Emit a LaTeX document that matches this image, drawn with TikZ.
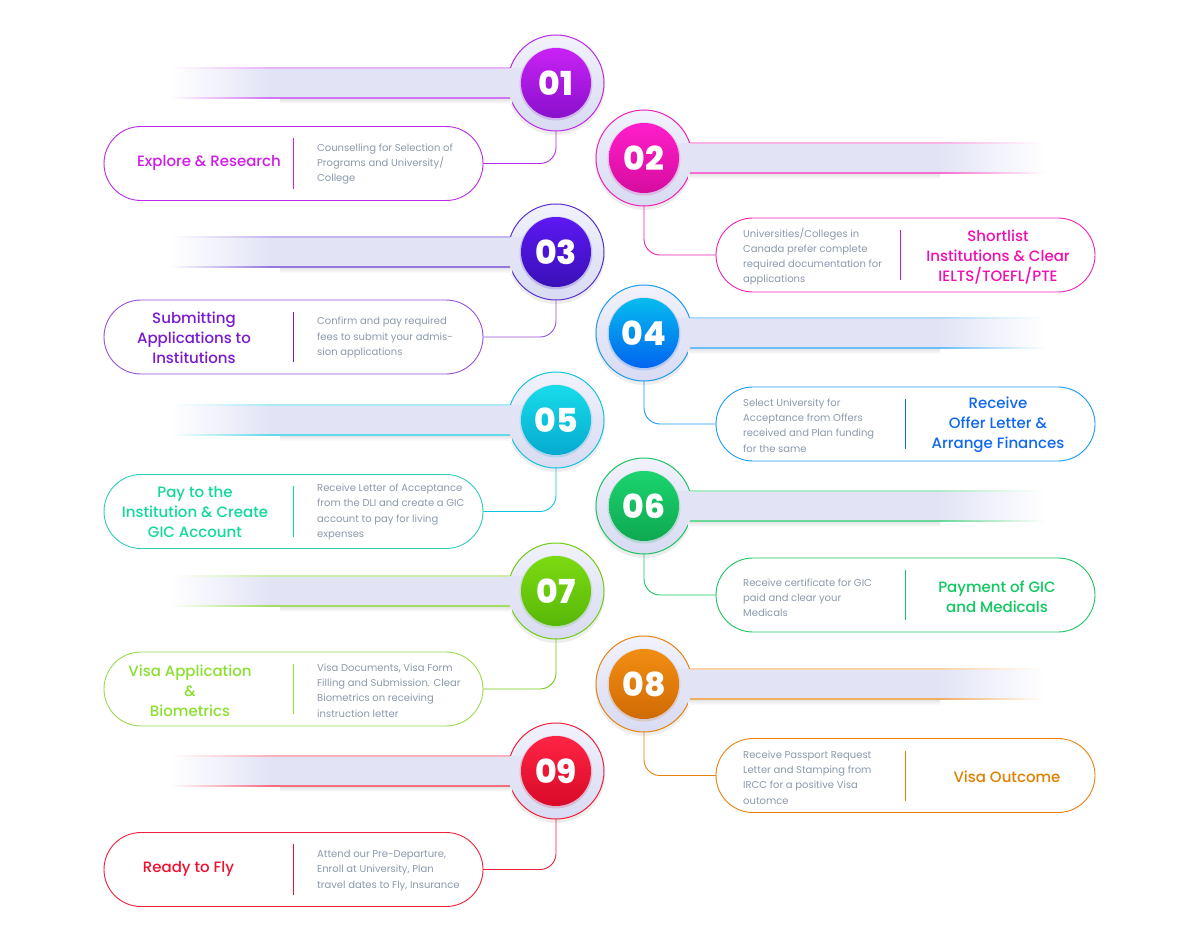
\documentclass[tikz,border=0pt]{standalone}
\usepackage{fontspec}
\setmainfont{Poppins}
\newfontfamily\ptitle{Poppins Medium}
\newfontfamily\pnum{Poppins ExtraBold}
\usetikzlibrary{calc}
\definecolor{desc}{HTML}{8C9AAC}
\definecolor{barc}{HTML}{E2E4F6}
\definecolor{ringtop}{HTML}{F1F2FC}
\definecolor{ringbot}{HTML}{D8DBF2}
% step colours: main, top, bottom, title
\definecolor{m1}{HTML}{B92AE8}\definecolor{u1}{HTML}{C922F5}\definecolor{l1}{HTML}{8A10CC}\definecolor{t1}{HTML}{D01CE8}
\definecolor{m2}{HTML}{F020B8}\definecolor{u2}{HTML}{FF1ECB}\definecolor{l2}{HTML}{D60C9E}\definecolor{t2}{HTML}{F00FB0}
\definecolor{m3}{HTML}{5A30D0}\definecolor{u3}{HTML}{5C18F2}\definecolor{l3}{HTML}{3A10B8}\definecolor{t3}{HTML}{7A1AD0}
\definecolor{b3}{HTML}{9A50D8}
\definecolor{m4}{HTML}{1A9AF0}\definecolor{u4}{HTML}{06BCEE}\definecolor{l4}{HTML}{0064F0}\definecolor{t4}{HTML}{1068F0}
\definecolor{m5}{HTML}{10C4E0}\definecolor{u5}{HTML}{18DCEA}\definecolor{l5}{HTML}{06AAD0}\definecolor{t5}{HTML}{12D89C}
\definecolor{b5}{HTML}{30CCB8}
\definecolor{m6}{HTML}{1CC460}\definecolor{u6}{HTML}{1CD470}\definecolor{l6}{HTML}{0EA850}\definecolor{t6}{HTML}{10C860}
\definecolor{m7}{HTML}{70CC10}\definecolor{u7}{HTML}{7CDA12}\definecolor{l7}{HTML}{58B808}\definecolor{t7}{HTML}{8AE030}
\definecolor{b7}{HTML}{9ADA50}
\definecolor{m8}{HTML}{E8820E}\definecolor{u8}{HTML}{F28E12}\definecolor{l8}{HTML}{D06A05}\definecolor{t8}{HTML}{E08000}
\definecolor{m9}{HTML}{F0203C}\definecolor{u9}{HTML}{FF2444}\definecolor{l9}{HTML}{D80A28}\definecolor{t9}{HTML}{F01030}
\tikzset{
  ring/.style={circle, minimum size=96pt, inner sep=0pt, outer sep=0pt, draw=#1, line width=1pt, top color=ringtop, bottom color=ringbot},
  core/.style 2 args={circle, minimum size=70pt, inner sep=0pt, outer sep=0pt, text=white, top color=#1, bottom color=#2, font=\pnum\fontsize{33}{33}\selectfont},
  box/.style={draw=#1, line width=0.9pt, rounded corners=37pt, minimum width=379pt, minimum height=74pt, inner sep=0pt, outer sep=0pt, fill=white},
  conn/.style={draw=#1, line width=0.9pt, rounded corners=16pt},
  ttl/.style={text=#1, align=center, font=\ptitle\fontsize{15}{20}\selectfont, inner sep=0pt},
  dsc/.style={text=desc, align=left, anchor=west, font=\fontsize{10}{15.2}\selectfont, inner sep=0pt},
  divider/.style={draw=#1, line width=1pt},
}
% odd step: circle at x=556, bar to the left
\newcommand\oddstep[3]{% #1 num, #2 cy, #3 colour index
  \fill[black,opacity=0.07] (556,#2+3) circle (49pt);
  \node[ring=m#3] (c#1) at (556,#2) {};
  \shade[top color=black!12, bottom color=white] (280,#2+15) rectangle (512,#2+21);
  \fill[barc] (268,#2-15) rectangle (526,#2+15);
  \shade[left color=white, right color=barc] (170,#2-15) rectangle (270,#2+15);
  \fill[m#3!35] (268,#2-15.6) rectangle (510.4,#2-14.4);
  \shade[left color=white, right color=m#3!35] (170,#2-15.6) rectangle (270,#2-14.4);
  \fill[m#3!65] (268,#2+14.4) rectangle (510.4,#2+15.6);
  \shade[left color=white, right color=m#3!65] (170,#2+14.4) rectangle (270,#2+15.6);
  \fill[l#3,opacity=0.18] (556,#2+1) circle (36.5pt);
  \node[core={u#3}{l#3}] (n#1) at (556,#2) {0#1};
}
% even step: circle at x=644, bar to the right
\newcommand\evenstep[3]{%
  \fill[black,opacity=0.07] (644,#2+3) circle (49pt);
  \node[ring=m#3] (c#1) at (644,#2) {};
  \shade[top color=black!12, bottom color=white] (688,#2+15) rectangle (940,#2+21);
  \fill[barc] (674,#2-15) rectangle (942,#2+15);
  \shade[left color=barc, right color=white] (940,#2-15) rectangle (1045,#2+15);
  \fill[m#3!35] (689.6,#2-15.6) rectangle (942,#2-14.4);
  \shade[left color=m#3!35, right color=white] (940,#2-15.6) rectangle (1045,#2-14.4);
  \fill[m#3!65] (689.6,#2+14.4) rectangle (942,#2+15.6);
  \shade[left color=m#3!65, right color=white] (940,#2+14.4) rectangle (1045,#2+15.6);
  \fill[l#3,opacity=0.18] (644,#2+1) circle (36.5pt);
  \node[core={u#3}{l#3}] (n#1) at (644,#2) {0#1};
}
\begin{document}
\begin{tikzpicture}[x=1pt,y=-1pt]
\useasboundingbox (0,0) rectangle (1200,939);
\fill[white] (0,0) rectangle (1200,939);

\oddstep{1}{83}{1}
\evenstep{2}{158}{2}
\oddstep{3}{252}{3}
\evenstep{4}{333}{4}
\oddstep{5}{420}{5}
\evenstep{6}{506}{6}
\oddstep{7}{591}{7}
\evenstep{8}{684}{8}
\oddstep{9}{771}{9}

% boxes
\node[box=m1] (b1) at (293.5,163.5) {};
\node[box=m2] (b2) at (905.5,255) {};
\node[box=b3] (b3) at (293.5,337) {};
\node[box=m4] (b4) at (905.5,424) {};
\node[box=b5] (b5) at (293.5,511.5) {};
\node[box=m6] (b6) at (905.5,595) {};
\node[box=b7] (b7) at (293.5,689) {};
\node[box=m8] (b8) at (905.5,775.5) {};
\node[box=m9] (b9) at (293.5,869.5) {};

% connectors
\draw[conn=m1] (c1.south) |- (b1.east);
\draw[conn=m2] (c2.south) |- (b2.west);
\draw[conn=b3] (c3.south) |- (b3.east);
\draw[conn=m4] (c4.south) |- (b4.west);
\draw[conn=m5] (c5.south) |- (b5.east);
\draw[conn=m6] (c6.south) |- (b6.west);
\draw[conn=m7] (c7.south) |- (b7.east);
\draw[conn=m8] (c8.south) |- (b8.west);
\draw[conn=m9] (c9.south) |- (b9.east);

% dividers
\draw[divider=t1] (293,138) -- (293,189);
\draw[divider=t2] (900,230) -- (900,280);
\draw[divider=t3] (293,312) -- (293,362);
\draw[divider=t4] (905,399) -- (905,449);
\draw[divider=t5] (293,486) -- (293,537);
\draw[divider=t6] (905,570) -- (905,620);
\draw[divider=t7] (293,664) -- (293,714);
\draw[divider=t8] (905,751) -- (905,801);
\draw[divider=t9] (293,844) -- (293,895);

% titles
\node[ttl=t1] (h1) at (209,163) {Explore \& Research};
\node[ttl=t2] (h2) at (998,257) {Shortlist\\Institutions \& Clear\\IELTS/TOEFL/PTE};
\node[ttl=t3] (h3) at (194,337.5) {Submitting\\Applications to\\Institutions};
\node[ttl=t4] (h4) at (998,425) {Receive\\Offer Letter \&\\Arrange Finances};
\node[ttl=t5] (h5) at (195,512.5) {Pay to the\\Institution \& Create\\GIC Account};
\node[ttl=t6] (h6) at (997,597) {Payment of GIC\\and Medicals};
\node[ttl=t7] (h7) at (190,690.5) {Visa Application\\\&\\Biometrics};
\node[ttl=t8] (h8) at (1007,777) {Visa Outcome};
\node[ttl=t9] (h9) at (188.5,869) {Ready to Fly};

% descriptions
\node[dsc] (d1) at (317,164) {Counselling for Selection of\\Programs and University/\\College};
\node[dsc] (d2) at (743,256.5) {Universities/Colleges in\\Canada prefer complete\\required documentation for\\applications};
\node[dsc] (d3) at (317,337.5) {Confirm and pay required\\fees to submit your admis-\\sion applications};
\node[dsc] (d4) at (743,425.5) {Select University for\\Acceptance from Offers\\received and Plan funding\\for the same};
\node[dsc] (d5) at (317,512) {Receive Letter of Acceptance\\from the DLI and create a GIC\\account to pay for living\\expenses};
\node[dsc] (d6) at (743,597.5) {Receive certificate for GIC\\paid and clear your\\Medicals};
\node[dsc] (d7) at (317,690.5) {Visa Documents, Visa Form\\Filling and Submission. Clear\\Biometrics on receiving\\instruction letter};
\node[dsc] (d8) at (743,777.5) {Receive Passport Request\\Letter and Stamping from\\IRCC for a positive Visa\\outomce};
\node[dsc] (d9) at (317,870.5) {Attend our Pre-Departure,\\Enroll at University, Plan\\travel dates to Fly, Insurance};
\end{tikzpicture}
\end{document}
